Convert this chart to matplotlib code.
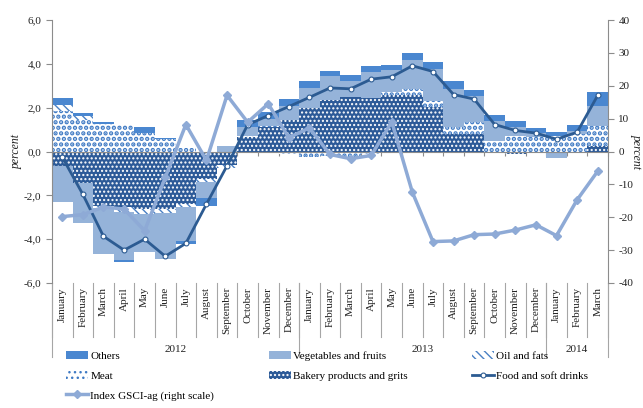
import numpy as np
import matplotlib
matplotlib.use('Agg')
import matplotlib.pyplot as plt
from matplotlib.transforms import blended_transform_factory
from matplotlib.ticker import FuncFormatter, FixedLocator

plt.rcParams['font.family'] = ['Liberation Serif', 'DejaVu Serif']
plt.rcParams['hatch.linewidth'] = 1.0

month_labels = ['January', 'February', 'March', 'April', 'May', 'June', 'July', 'August',
                'September', 'October', 'November', 'December',
                'January', 'February', 'March', 'April', 'May', 'June', 'July', 'August',
                'September', 'October', 'November', 'December',
                'January', 'February', 'March']
years = ['2012', '2013', '2014']
year_spans = [12, 12, 3]

bakery = [-0.64, -1.45, -2.47, -2.54, -2.62, -2.62, -2.39, -1.25, -0.60, 0.65, 1.12, 1.45,
          2.00, 2.33, 2.48, 2.45, 2.60, 2.60, 2.05, 0.80, 0.81, 0.00, -0.10, -0.08,
          -0.08, -0.05, 0.27]
meat = [1.84, 1.42, 1.25, 1.22, 0.84, 0.55, 0.17, 0.00, 0.00, 0.05, 0.05, -0.12,
        -0.25, -0.20, -0.25, -0.10, 0.10, 0.26, 0.27, 0.33, 0.53, 0.50, 0.73, 0.65,
        0.73, 0.81, 0.88]
oil = [0.26, 0.20, -0.10, -0.23, -0.23, -0.20, -0.15, -0.15, -0.15, 0.00, 0.00, 0.00,
       0.00, 0.00, 0.00, 0.00, 0.00, 0.00, 0.00, 0.00, 0.00, 0.00, 0.00, 0.00,
       0.00, 0.00, 0.00]
vegetables = [-1.67, -1.83, -2.10, -2.20, -1.75, -2.08, -1.55, -0.72, 0.27, 0.43, 0.30, 0.61,
              0.91, 1.10, 0.73, 1.17, 1.02, 1.32, 1.45, 1.70, 1.17, 0.88, 0.38, 0.18,
              -0.20, 0.12, 0.94]
others = [0.35, 0.15, 0.09, -0.08, 0.27, 0.07, -0.15, -0.35, 0.00, 0.30, 0.33, 0.35,
          0.29, 0.24, 0.26, 0.26, 0.24, 0.32, 0.33, 0.38, 0.30, 0.29, 0.26, 0.24,
          0.14, 0.26, 0.64]
food_soft_drinks = [-0.26, -1.96, -3.87, -4.50, -4.00, -4.78, -4.19, -2.40, -0.65, 1.22, 1.64, 2.05,
                    2.47, 2.90, 2.86, 3.30, 3.41, 3.91, 3.65, 2.60, 2.39, 1.23, 0.96, 0.84,
                    0.56, 0.88, 2.56]
gsci_ag = [-19.8, -19.2, -16.9, -17.5, -24.1, -7.9, 8.2, -2.7, 17.1, 8.9, 14.5, 4.2,
           7.2, -0.9, -2.2, -1.2, 9.0, -12.4, -27.4, -27.2, -25.3, -25.1, -23.9, -22.3,
           -25.6, -14.7, -6.0]

W, H = 643, 408
fig = plt.figure(figsize=(W / 100, H / 100), dpi=100)
ax = fig.add_axes([52 / W, 1 - 283 / H, (608 - 52) / W, (283 - 20) / H])
ax2 = ax.twinx()

n = len(month_labels)
x = np.arange(n)
grey = '#8c8c8c'
txt = '#222222'

components = [
    ('Bakery products and grits', bakery, dict(facecolor='#2c5a98', edgecolor='white', hatch='....'), 1.0),
    ('Meat', meat, dict(facecolor='white', edgecolor='#3f7ac4', hatch='...'), 2.2),
    ('Oil and fats', oil, dict(facecolor='white', edgecolor='#4a80c4', hatch='\\\\\\\\'), 1.0),
    ('Vegetables and fruits', vegetables, dict(facecolor='#95b3d9', edgecolor='#95b3d9'), 1.0),
    ('Others', others, dict(facecolor='#4a87d0', edgecolor='#4a87d0'), 1.0),
]
handles = {}
pos = np.zeros(n)
neg = np.zeros(n)
for name, vals, style, hlw in components:
    v = np.array(vals, dtype=float)
    bottom = np.where(v >= 0, pos, neg)
    with plt.rc_context({'hatch.linewidth': hlw}):
        bars = ax.bar(x, v, width=1.0, bottom=bottom, linewidth=0, zorder=2, **style)
    for p in bars.patches:
        if hasattr(p, 'set_hatch_linewidth'):
            p.set_hatch_linewidth(hlw)
    handles[name] = bars
    pos += np.clip(v, 0, None)
    neg += np.clip(v, None, 0)

food_line, = ax.plot(x, food_soft_drinks, color='#2c5b92', lw=2.0, marker='o', ms=3.5,
                     mfc='white', mec='#2c5b92', mew=0.8, zorder=4)
gsci_line, = ax2.plot(x, gsci_ag, color='#8eaad6', lw=2.5, marker='D', ms=4.5,
                      mfc='#8eaad6', mec='#8eaad6', zorder=4)

ax.set_xlim(-0.5, n - 0.5)
ax.set_ylim(-6, 6)
ax2.set_ylim(-40, 40)

for s in ['top', 'right']:
    ax.spines[s].set_visible(False)
ax.spines['bottom'].set_position(('data', 0))
ax.spines['bottom'].set_color(grey)
ax.spines['left'].set_color(grey)
for s in ['top', 'left', 'bottom']:
    ax2.spines[s].set_visible(False)
ax2.spines['right'].set_color(grey)

ax.set_yticks(np.arange(-6, 6.1, 2))
ax.yaxis.set_major_formatter(FuncFormatter(lambda v, p: ('%.1f' % v).replace('.', ',')))
ax.tick_params(axis='y', colors=grey, labelcolor=txt, labelsize=8, length=4, direction='out')
ax2.set_yticks(np.arange(-40, 41, 10))
ax2.yaxis.set_major_formatter(FuncFormatter(lambda v, p: '%d' % v))
ax2.tick_params(axis='y', colors=grey, labelcolor=txt, labelsize=8, length=4, direction='out')

ax.xaxis.set_major_locator(FixedLocator(np.arange(-0.5, n, 1.0)))
ax.tick_params(axis='x', colors=grey, length=3, direction='out', labelbottom=False)

ax.set_ylabel('percent', fontsize=8.5, style='italic', color=txt, labelpad=1)
ax2.set_ylabel('percent', fontsize=8.5, style='italic', color=txt, rotation=270, labelpad=7)

trans = blended_transform_factory(ax.transData, ax.transAxes)
ah = 283 - 20
for i, m in enumerate(month_labels):
    ax.text(i, -4 / ah, m, transform=trans, rotation=90, ha='center', va='top',
            fontsize=8, color=txt, clip_on=False)
for b in np.arange(-0.5, n, 1.0):
    ax.plot([b, b], [0, -54 / ah], transform=trans, color='#a6a6a6', lw=0.8, clip_on=False)
start = 0
bounds = [0]
for yr, span in zip(years, year_spans):
    ax.text(start + span / 2 - 0.5, -67 / ah, yr, transform=trans, ha='center', va='center',
            fontsize=8, color=txt, clip_on=False)
    start += span
    bounds.append(start)
for b in bounds:
    ax.plot([b - 0.5, b - 0.5], [0, -74 / ah], transform=trans, color='#a6a6a6', lw=0.8,
            clip_on=False)

leg_kw = dict(loc='upper left', frameon=False, fontsize=8, handlelength=2.0, handleheight=0.7,
              handletextpad=0.2, labelspacing=0.9, borderaxespad=0, borderpad=0)
top = 1 - 351 / H
fig.legend([handles['Others'], handles['Meat'], gsci_line],
           ['Others', 'Meat', 'Index GSCI-ag (right scale)'],
           bbox_to_anchor=(66 / W, top), **leg_kw)
fig.legend([handles['Vegetables and fruits'], handles['Bakery products and grits']],
           ['Vegetables and fruits', 'Bakery products and grits'],
           bbox_to_anchor=(269 / W, top), **leg_kw)
fig.legend([handles['Oil and fats'], food_line],
           ['Oil and fats', 'Food and soft drinks'],
           bbox_to_anchor=(472 / W, top), **leg_kw)

fig.savefig('out.png', dpi=100)
